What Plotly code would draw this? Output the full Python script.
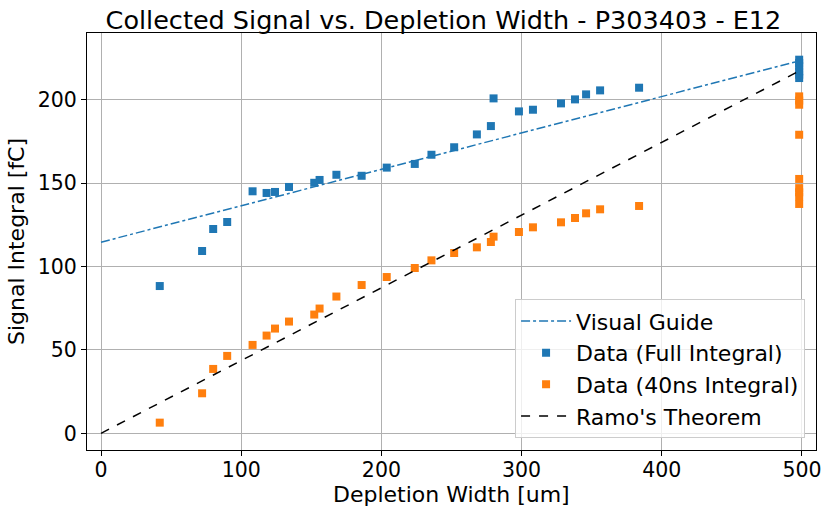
import plotly.graph_objects as go

# Data
full_x = [41.9, 72.1, 80.0, 90.0, 108.1, 118.1, 124.1, 134.1, 152.1, 155.9, 167.9, 185.9,
          203.8, 223.8, 235.7, 251.9, 268.1, 278.1, 280.0, 298.1, 308.1, 328.1, 338.1,
          346.0, 356.0, 383.8, 498, 498, 498, 498, 498, 498]
full_y = [88.3, 109.3, 122.5, 126.7, 145.1, 144.1, 144.7, 147.7, 150.2, 151.9, 155.0, 154.4,
          159.3, 161.5, 167.0, 171.5, 179.2, 184.2, 200.8, 193.0, 194.0, 197.8, 200.2,
          203.2, 205.6, 207.2, 224.0, 222.0, 220.0, 217.0, 215.0, 213.0]

ns40_x = [41.9, 72.1, 80.0, 90.0, 108.1, 118.1, 124.1, 134.1, 152.1, 155.9, 167.9, 185.9,
          203.8, 223.8, 235.7, 251.9, 268.1, 278.1, 280.0, 298.1, 308.1, 328.1, 338.1,
          346.0, 356.0, 383.8, 498, 498, 498, 498, 498, 498, 498, 498, 498]
ns40_y = [6.4, 24.0, 38.6, 46.4, 53.0, 58.6, 62.8, 67.0, 71.2, 74.8, 82.0, 88.9,
          93.7, 99.1, 103.7, 108.1, 111.5, 114.7, 117.9, 120.7, 123.5, 126.5, 129.1,
          131.9, 134.3, 136.3, 202.0, 199.5, 197.0, 179.0, 152.5, 147.0, 144.5, 142.0, 137.5]

guide_x = [0, 498]
guide_y = [114.6, 223.3]

ramo_x = [0, 498]
ramo_y = [0, 217.2]

x_ticks = [0, 100, 200, 300, 400, 500]
y_ticks = [0, 50, 100, 150, 200]

BLUE = "#1f77b4"
ORANGE = "#ff7f0e"
FONT = "DejaVu Sans"

fig = go.Figure()
fig.add_trace(go.Scatter(x=guide_x, y=guide_y, mode="lines", name="Visual Guide",
                         line=dict(color=BLUE, width=1.5, dash="dashdot")))
fig.add_trace(go.Scatter(x=full_x, y=full_y, mode="markers", name="Data (Full Integral)",
                         marker=dict(symbol="square", size=8, color=BLUE, line=dict(width=0))))
fig.add_trace(go.Scatter(x=ns40_x, y=ns40_y, mode="markers", name="Data (40ns Integral)",
                         marker=dict(symbol="square", size=8, color=ORANGE, line=dict(width=0))))
fig.add_trace(go.Scatter(x=ramo_x, y=ramo_y, mode="lines", name="Ramo's Theorem",
                         line=dict(color="black", width=1.5, dash="dash")))

axis_common = dict(
    showline=True, mirror=True, linecolor="black", linewidth=1.2,
    ticks="outside", ticklen=5, tickwidth=1.2, tickcolor="black",
    showgrid=True, gridcolor="#b0b0b0", gridwidth=1, zeroline=False,
    automargin=False,
    tickfont=dict(family=FONT, size=20.5, color="black"),
)

fig.update_layout(
    width=823, height=506,
    margin=dict(l=87, r=7, t=33, b=56),
    paper_bgcolor="white", plot_bgcolor="white",
    font=dict(family=FONT, size=22, color="black"),
    title=dict(text="Collected Signal vs. Depletion Width - P303403 - E12",
               x=0.489, xref="paper", xanchor="center",
               y=1, yref="paper", yanchor="bottom", pad=dict(b=4),
               font=dict(family=FONT, size=25.5, color="black")),
    xaxis=dict(range=[-10, 510], tickvals=x_ticks, ticklabelstandoff=-4, **axis_common),
    yaxis=dict(range=[-10, 240], tickvals=y_ticks,
               title=dict(text="Signal Integral [fC]", standoff=6,
                          font=dict(family=FONT, size=22)), **axis_common),
    legend=dict(x=0.985, xanchor="right", y=0.028, yanchor="bottom",
                bgcolor="rgba(255,255,255,0.8)", bordercolor="#cccccc", borderwidth=1,
                font=dict(family=FONT, size=22, color="black"),
                itemwidth=50, tracegroupgap=0),
    showlegend=True,
)

# x-axis title as a text annotation so it sits as tightly as in the reference
fig.add_annotation(text="Depletion Width [um]", xref="paper", yref="paper",
                   x=0.5, y=-0.138, xanchor="center", yanchor="bottom",
                   showarrow=False, borderpad=0,
                   font=dict(family=FONT, size=22, color="black"))

fig.write_html("out.html")
